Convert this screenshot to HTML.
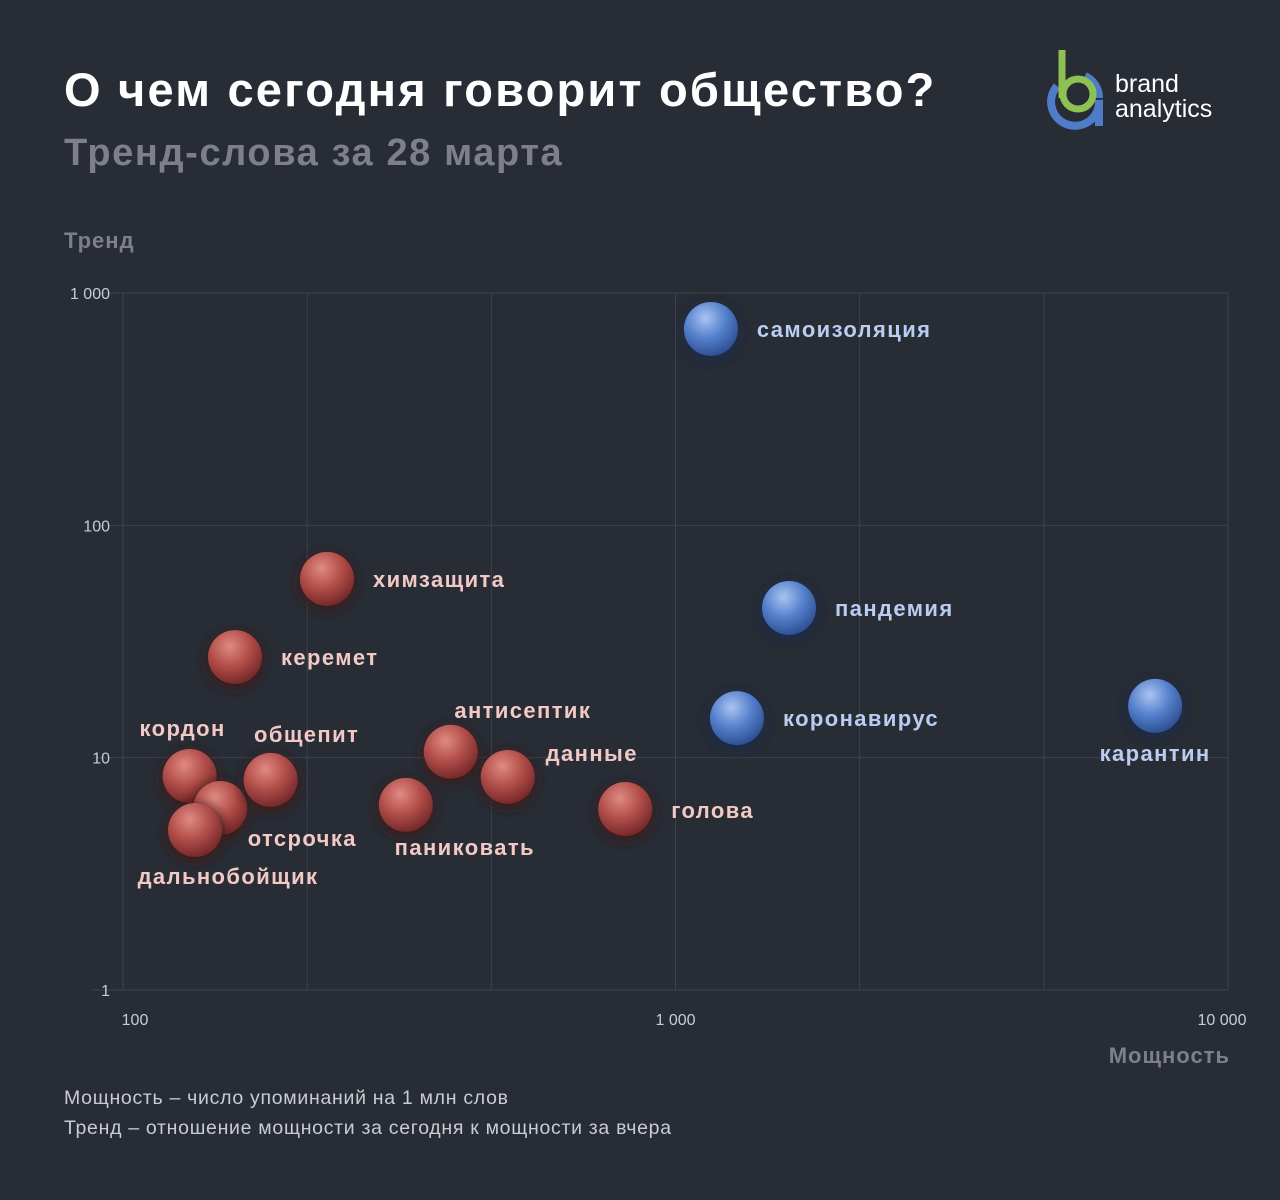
<!DOCTYPE html>
<html><head><meta charset="utf-8"><style>
body{margin:0;background:#272c35;width:1280px;height:1200px;overflow:hidden;font-family:"Liberation Sans","DejaVu Sans",sans-serif}
.t{position:absolute;left:64px;color:#fff}
</style></head><body>
<div class="t" style="top:62px;font-size:47px;font-weight:bold;letter-spacing:2.2px">О чем сегодня говорит общество?</div>
<div class="t" style="top:132px;font-size:38px;font-weight:bold;color:#7d8088;letter-spacing:1.6px">Тренд-слова за 28 марта</div>
<div style="position:absolute;left:1045px;top:48px;width:190px;height:84px">
<svg width="70" height="84"><path d="M12 38 A24 24 0 1 0 54 52 L54 78" fill="none" stroke="#4f7cc9" stroke-width="8"/><path d="M40 28 A24 24 0 0 1 54 50" fill="none" stroke="#4f7cc9" stroke-width="8"/><line x1="17" y1="2" x2="17" y2="50" stroke="#8dc153" stroke-width="7"/><circle cx="33" cy="46" r="15" fill="none" stroke="#8dc153" stroke-width="7"/></svg>
<div style="position:absolute;left:70px;top:24px;color:#fff;font-size:25px;line-height:25px">brand<br>analytics</div>
</div>
<div class="t" style="top:228px;font-size:22px;font-weight:bold;color:#7d8088;letter-spacing:1px">Тренд</div>
<div style="position:absolute;right:50px;top:1043px;font-size:22px;font-weight:bold;color:#7d8088;letter-spacing:1px">Мощность</div>
<div class="t" style="top:1083px;font-size:19.5px;line-height:30px;color:#c9ccd2;letter-spacing:0.7px">Мощность – число упоминаний на 1 млн слов<br>Тренд – отношение мощности за сегодня к мощности за вчера</div>
<svg id="chart" width="1280" height="1200" style="position:absolute;left:0;top:0">
<defs>
<radialGradient id="gr" cx="0.4" cy="0.3" r="0.75"><stop offset="0" stop-color="#e08a83"/><stop offset="0.5" stop-color="#b24e4a"/><stop offset="1" stop-color="#6e2426"/></radialGradient>
<radialGradient id="gb" cx="0.4" cy="0.3" r="0.75"><stop offset="0" stop-color="#a9c4f2"/><stop offset="0.5" stop-color="#5580cc"/><stop offset="1" stop-color="#2a4a8c"/></radialGradient>
<filter id="glow" x="-50%" y="-50%" width="200%" height="200%"><feGaussianBlur stdDeviation="5"/></filter>
</defs>
</svg>
<script>
const words=["самоизоляция","пандемия","коронавирус","карантин","химзащита","керемет","кордон","отсрочка","дальнобойщик","общепит","паниковать","антисептик","данные","голова"];
const power=[1159,1605,1292,7380,234,159.5,132,150,135,185,325,392,497,811];
const trend=[700,44.1,14.8,16.7,58.8,27.1,8.34,6.07,4.88,8.02,6.26,10.6,8.26,6.01];
const group=["b","b","b","b","r","r","r","r","r","r","r","r","r","r"];
const xTicks=[100,1000,10000];
const xTickLabels=["100","1 000","10 000"];
const yTicks=[1,10,100,1000];
const yTickLabels=["1","10","100","1 000"];
// label layout (dx, dy, anchor)
const lab=[[46,8,"start"],[46,8,"start"],[46,8,"start"],[0,55,"middle"],[46,8,"start"],[46,8,"start"],[-7,-40,"middle"],[82,38,"middle"],[33,54,"middle"],[36,-38,"middle"],[59,50,"middle"],[72,-34,"middle"],[84,-16,"middle"],[46,9,"start"]];
const X0=123,X1=1228,Y0=990,Y1=293;
const xs=v=>X0+(Math.log10(v)-2)/2*(X1-X0);
const ys=v=>Y0-(Math.log10(v))/3*(Y0-Y1);
const svg=document.getElementById('chart');const NS="http://www.w3.org/2000/svg";
function mk(t,a,p){const e=document.createElementNS(NS,t);for(const k in a)e.setAttribute(k,a[k]);(p||svg).appendChild(e);return e;}
for(let i=0;i<=6;i++){const x=X0+i*(X1-X0)/6;const l=mk('line',{x1:x,x2:x,y1:Y1,y2:Y0,stroke:'#3d424c','stroke-width':1});

}
yTicks.forEach((v,i)=>{const y=ys(v);const l=mk('line',{x1:X0-30,x2:X1,y1:y,y2:y,stroke:'#3d424c','stroke-width':1});


const t=mk('text',{x:110,y:y+6,'text-anchor':'end',fill:'#c9ccd2','font-size':16});t.textContent=yTickLabels[i];

});
xTicks.forEach((v,i)=>{const t=mk('text',{x:xs(v)+(i==0?12:i==2?-6:0),y:1025,'text-anchor':'middle',fill:'#c9ccd2','font-size':16});t.textContent=xTickLabels[i];

});
words.forEach((w,i)=>{const cx=xs(power[i]),cy=ys(trend[i]);const b=group[i]=="b";
mk('circle',{cx:cx,cy:cy+3,r:29,fill:b?'#1b2a4a':'#3a1a1c',filter:'url(#glow)'});
const c=mk('circle',{cx:cx,cy:cy,r:27,fill:b?'url(#gb)':'url(#gr)'});


const L=lab[i];const t=mk('text',{x:cx+L[0],y:cy+L[1],'text-anchor':L[2],fill:b?'#b9cdf0':'#f2c9c4','font-size':22,'font-weight':'bold','letter-spacing':1.4});t.textContent=w;

});
</script>
</body></html>
